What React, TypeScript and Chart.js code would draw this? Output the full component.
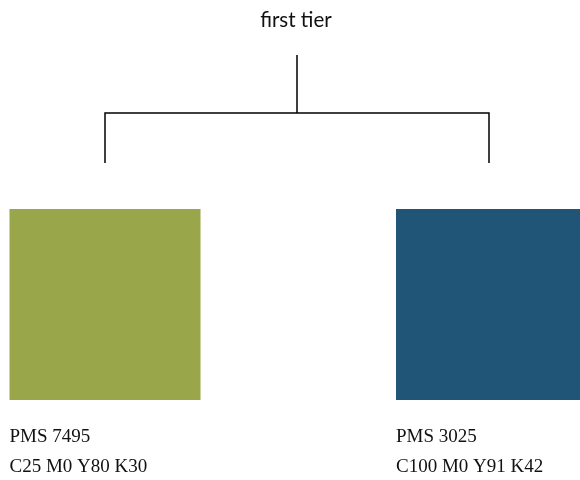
import React, { useEffect, useRef } from "react";
import { Chart, registerables } from "chart.js";

Chart.register(...registerables);

// Diagram data
const rootLabel = "first tier";
const swatchNames = ["PMS 7495", "PMS 3025"];
const swatchCmyk = ["C25 M0 Y80 K30", "C100 M0 Y91 K42"];
const swatchColors = ["#9aa64a", "#215577"];

// Coordinates in diagram units (canvas 580 x 480)
const rootX = 297;
const branchX = [105, 491.5];
const trunkTop = 55;
const barY = 113;
const branchBottom = 163;
const swatchCenterY = 304.5;
const swatchSide = 191;

export default function App() {
  const ref = useRef<HTMLCanvasElement>(null);

  useEffect(() => {
    document.body.style.margin = "0";
    const canvas = ref.current!;
    const textPlugin = {
      id: "diagramText",
      afterDraw(chart: any) {
        const { ctx, scales } = chart;
        const sx = scales.x;
        const sy = scales.y;
        ctx.save();
        ctx.fillStyle = "#111";
        ctx.textAlign = "center";
        ctx.textBaseline = "alphabetic";
        ctx.font = '20.5px Lato, "Open Sans", sans-serif';
        ctx.fillText(rootLabel, sx.getPixelForValue(rootX - 1), sy.getPixelForValue(27));
        ctx.textAlign = "left";
        ctx.font = '19px "Liberation Serif", "DejaVu Serif", serif';
        ctx.fillStyle = "#111";
        swatchNames.forEach((n, i) => {
          const left = branchX[i] - swatchSide / 2;
          ctx.fillText(n, sx.getPixelForValue(left), sy.getPixelForValue(442));
          ctx.fillText(swatchCmyk[i], sx.getPixelForValue(left), sy.getPixelForValue(472));
        });
        ctx.restore();
      },
    };

    const lineStyle = {
      type: "line" as const,
      borderColor: "#000",
      borderWidth: 1.5,
      pointRadius: 0,
      fill: false,
      tension: 0,
      clip: false as any,
    };

    const chart = new Chart(canvas, {
      type: "line",
      data: {
        datasets: [
          ...swatchColors.map((c, i) => ({
            type: "scatter" as const,
            label: swatchNames[i],
            data: [{ x: branchX[i], y: swatchCenterY }],
            pointStyle: "rect",
            pointRadius: swatchSide / Math.SQRT2,
            pointHoverRadius: swatchSide / Math.SQRT2,
            backgroundColor: c,
            borderColor: c,
            borderWidth: 0,
            clip: false as any,
          })),
          {
            ...lineStyle,
            label: "trunk",
            data: [
              { x: rootX, y: trunkTop },
              { x: rootX, y: barY },
            ],
          },
          {
            ...lineStyle,
            label: "branches",
            data: [
              { x: branchX[0], y: branchBottom },
              { x: branchX[0], y: barY },
              { x: 489, y: barY },
              { x: 489, y: branchBottom },
            ],
          },
        ],
      },
      options: {
        animation: false,
        responsive: false,
        events: [],
        layout: { padding: 0, autoPadding: false },
        plugins: { legend: { display: false }, tooltip: { enabled: false }, title: { display: false } },
        scales: {
          x: { type: "linear", min: 0, max: 580, display: false },
          y: { type: "linear", min: 0, max: 480, reverse: true, display: false },
        },
      },
      plugins: [textPlugin],
    });
    return () => chart.destroy();
  }, []);

  return <canvas ref={ref} width={580} height={480} style={{ display: "block" }} />;
}
